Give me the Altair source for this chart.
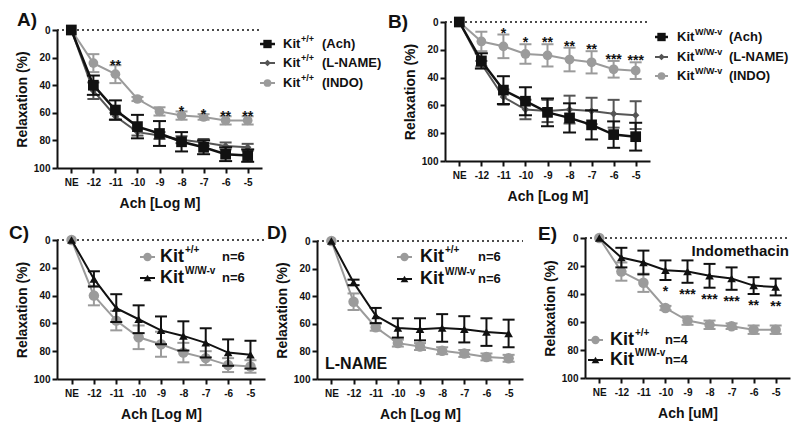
import altair as alt
import pandas as pd

# ---------------- data ----------------
xcats = ["NE", "-12", "-11", "-10", "-9", "-8", "-7", "-6", "-5"]

wt_ach_mean = [0, 40, 58, 70, 75, 81, 85, 90, 91]
wt_ach_err = [0, 7, 7, 8.5, 9, 7, 5, 5, 4.5]
wt_lname_mean = [0, 44, 62.5, 74, 76.5, 79.5, 81.5, 84, 85]
wt_lname_err = [0, 6, 2.5, 2.5, 2.5, 2.5, 2.5, 2.5, 2.5]
wt_indo_mean = [0, 24, 32, 50, 59, 62, 63, 65.5, 65.5]
wt_indo_err = [0, 6.5, 6.5, 1.5, 3, 3, 2, 3, 3]

ko_ach_mean = [0, 28, 49, 57, 65, 69, 74, 81, 82.5]
ko_ach_err = [0, 5.5, 10, 10, 10, 10.5, 10.5, 9.5, 10]
ko_lname_mean = [0, 30, 54, 63, 64, 63, 64, 66, 67]
ko_lname_err = [0, 2, 5.5, 7, 8, 10, 9.5, 10, 10]
ko_indo_mean = [0, 14, 17.5, 23, 24, 27, 29, 34, 35]
ko_indo_err = [0, 7, 8.5, 7, 8, 8.5, 8, 6, 6]

stars_a_x = ["-11", "-8", "-7", "-6", "-5"]
stars_a = ["**", "*", "*", "**", "**"]
stars_b_x = ["-11", "-10", "-9", "-8", "-7", "-6", "-5"]
stars_b = ["*", "*", "**", "**", "**", "***", "***"]
stars_e_x = ["-10", "-9", "-8", "-7", "-6", "-5"]
stars_e = ["*", "***", "***", "***", "**", "**"]

legend_ab = ["(Ach)", "(L-NAME)", "(INDO)"]
sup_wt = "+/+"
sup_ko = "W/W-v"

FONT = "Liberation Sans"
BLACK = "#111111"
DGREY = "#555555"
LGREY = "#9b9b9b"
ONE = pd.DataFrame({"k": [0]})
W, H = 784, 416   # whole drawing area (layout, not data)


def sdf(means, errs):
    return pd.DataFrame({
        "x": xcats, "m": means,
        "lo": [m - e for m, e in zip(means, errs)],
        "hi": [m + e for m, e in zip(means, errs)],
        "e": errs,
    })


def txt(text, x, y, size, color=BLACK, align="left", baseline="middle"):
    return alt.Chart(ONE).mark_text(
        text=text, align=align, baseline=baseline, font=FONT, fontSize=size,
        fontWeight="bold", color=color
    ).encode(x=alt.value(x), y=alt.value(y))


def sym(x1, x2, y, color, shape, size, lw):
    line = alt.Chart(ONE).mark_rule(color=color, strokeWidth=lw).encode(
        x=alt.value(x1), x2=alt.value(x2), y=alt.value(y))
    pt = alt.Chart(ONE).mark_point(shape=shape, filled=True, opacity=1, color=color,
                                   size=size).encode(
        x=alt.value((x1 + x2) / 2), y=alt.value(y))
    return [line, pt]


def make_panel(series, xr, yr, xtitle, extras, stars=None):
    xscale = alt.Scale(type="point", padding=0.65, domain=xcats, range=list(xr))
    yscale = alt.Scale(domain=[0, 100], range=list(yr), nice=False, zero=False)
    xaxis = alt.Axis(title=xtitle, orient="bottom", offset=yr[1] - H, labelAngle=0,
                     titlePadding=9, labelPadding=4)
    yaxis = alt.Axis(orient="left", offset=-xr[0], values=[0, 20, 40, 60, 80, 100],
                     title="Relaxation (%)", titlePadding=4, labelPadding=2)

    def X():
        return alt.X("x:N", sort=xcats, scale=xscale, axis=xaxis)

    def Y(f):
        return alt.Y(f, type="quantitative", scale=yscale, axis=yaxis)

    layers = [alt.Chart(pd.DataFrame({"z": [0]})).mark_rule(
        color=BLACK, strokeDash=[2, 3], strokeWidth=1.5).encode(
        y=Y("z"), x=alt.value(xr[0]), x2=alt.value(xr[1]))]
    for s in series:
        df = sdf(s["mean"], s["err"])
        dfe = df[df["e"] > 0]
        c = s["color"]
        lw = s.get("lw", 2)
        layers.append(alt.Chart(df).mark_line(color=c, strokeWidth=lw).encode(x=X(), y=Y("m")))
        layers.append(alt.Chart(dfe).mark_rule(color=c, strokeWidth=2).encode(
            x=X(), y=Y("lo"), y2="hi"))
        for f in ["lo", "hi"]:
            layers.append(alt.Chart(dfe).mark_tick(color=c, orient="horizontal",
                                                   size=s.get("cap", 12), thickness=2,
                                                   opacity=1).encode(x=X(), y=Y(f)))
        layers.append(alt.Chart(df).mark_point(filled=True, opacity=1, color=c,
                                               shape=s["shape"], size=s["size"]).encode(
            x=X(), y=Y("m")))
    if stars is not None:
        sx, st, ref_mean, ref_err, side, dy = stars
        lut = dict(zip(xcats, zip(ref_mean, ref_err)))
        ys = [lut[k][0] - lut[k][1] if side == "above" else lut[k][0] + lut[k][1] for k in sx]
        sd = pd.DataFrame({"x": sx, "t": st, "y": ys})
        layers.append(alt.Chart(sd).mark_text(font=FONT, fontSize=14, fontWeight="bold",
                                              color=BLACK, baseline="alphabetic", dy=dy).encode(
            x=X(), y=Y("y"), text="t:N"))
    layers += extras
    return alt.layer(*layers)


def legend3(x1, x2, xkit, xsup, xrest, rows, sup, styles):
    out = []
    for (lab, y, st) in zip(legend_ab, rows, styles):
        out += sym(x1, x2, y, st[0], st[1], st[2], st[3])
        out.append(txt("Kit", xkit, y, 13))
        out.append(txt(sup, xsup, y - 5, 9))
        out.append(txt(lab, xrest, y, 13))
    return out


def legend2(x1, x2, xkit, xsup, xn, rows, ntext, ksize, supsize, nsize, supdy):
    out = []
    out += sym(x1, x2, rows[0], LGREY, "circle", 70, 2)
    out += sym(x1, x2, rows[1], BLACK, "triangle-up", 60, 2)
    out.append(txt("Kit", xkit, rows[0], ksize))
    out.append(txt(sup_wt, xsup, rows[0] - supdy, supsize))
    out.append(txt(ntext, xn, rows[0], nsize))
    out.append(txt("Kit", xkit, rows[1], ksize))
    out.append(txt(sup_ko, xsup, rows[1] - supdy, supsize))
    out.append(txt(ntext, xn, rows[1], nsize))
    return out


def label(t, x, y):
    return txt(t, x, y, 19, baseline="top")


abstyles = [(BLACK, "square", 70, 2.5), (DGREY, "diamond", 45, 2), (LGREY, "circle", 60, 2)]

panelA = make_panel(
    [
        dict(mean=wt_indo_mean, err=wt_indo_err, color=LGREY, shape="circle", size=95, lw=2),
        dict(mean=wt_lname_mean, err=wt_lname_err, color=DGREY, shape="diamond", size=55, lw=2),
        dict(mean=wt_ach_mean, err=wt_ach_err, color=BLACK, shape="square", size=115, lw=2.5, cap=13),
    ],
    (49, 254), (22, 160), "Ach [Log M]",
    legend3(252, 267, 275, 293, 314, [36, 55, 75], sup_wt, abstyles) + [label("A)", 9, 3)],
    stars=(stars_a_x, stars_a, wt_indo_mean, wt_indo_err, "above", 5),
)

panelB = make_panel(
    [
        dict(mean=ko_indo_mean, err=ko_indo_err, color=LGREY, shape="circle", size=95, lw=2),
        dict(mean=ko_lname_mean, err=ko_lname_err, color=DGREY, shape="diamond", size=55, lw=2),
        dict(mean=ko_ach_mean, err=ko_ach_err, color=BLACK, shape="square", size=115, lw=2.5, cap=13),
    ],
    (437, 642), (14, 153), "Ach [Log M]",
    legend3(647, 660, 669, 687, 721, [29, 49, 68], sup_ko, abstyles) + [label("B)", 380, 5)],
    stars=(stars_b_x, stars_b, ko_indo_mean, ko_indo_err, "above", 3),
)

panelC = make_panel(
    [
        dict(mean=wt_ach_mean, err=wt_ach_err, color=LGREY, shape="circle", size=110, lw=2),
        dict(mean=ko_ach_mean, err=ko_ach_err, color=BLACK, shape="triangle-up", size=75, lw=2),
    ],
    (49, 257), (232, 371), "Ach [Log M]",
    legend2(132, 147, 152, 177, 214, [249, 270], "n=6", 18, 10, 13, 7) + [label("C)", 1, 216)],
)

panelD = make_panel(
    [
        dict(mean=wt_lname_mean, err=wt_lname_err, color=LGREY, shape="circle", size=110, lw=2),
        dict(mean=ko_lname_mean, err=ko_lname_err, color=BLACK, shape="triangle-up", size=75, lw=2),
    ],
    (309, 515), (233, 371), "Ach [Log M]",
    legend2(389, 404, 412, 437, 470, [249, 271], "n=6", 18, 10, 13, 7)
    + [txt("L-NAME", 317, 356, 16), label("D)", 259, 216)],
)

panelE = make_panel(
    [
        dict(mean=wt_indo_mean, err=wt_indo_err, color=LGREY, shape="circle", size=110, lw=2),
        dict(mean=ko_indo_mean, err=ko_indo_err, color=BLACK, shape="triangle-up", size=75, lw=2),
    ],
    (577, 782), (230, 370), "Ach [uM]",
    legend2(580, 595, 602, 627, 657, [332, 352], "n=4", 18, 10, 13, 7)
    + [txt("Indomethacin", 781, 243, 15, align="right"), label("E)", 530, 217)],
    stars=(stars_e_x, stars_e, ko_indo_mean, ko_indo_err, "below", 16),
)

chart = alt.layer(panelA, panelB, panelC, panelD, panelE).resolve_scale(
    x="independent", y="independent"
).resolve_axis(
    x="independent", y="independent"
).properties(
    width=W, height=H, padding=0, autosize=alt.AutoSizeParams(type="none")
).configure_view(stroke=None).configure_axis(
    domainColor=BLACK, domainWidth=2, tickColor=BLACK, tickWidth=2, tickSize=5,
    labelFont=FONT, labelFontWeight="bold", labelFontSize=10, labelColor=BLACK,
    titleFont=FONT, titleFontSize=14, titleFontWeight="bold", titleColor=BLACK, grid=False
)

chart.save("out.html", embed_options={"renderer": "svg", "actions": False})
